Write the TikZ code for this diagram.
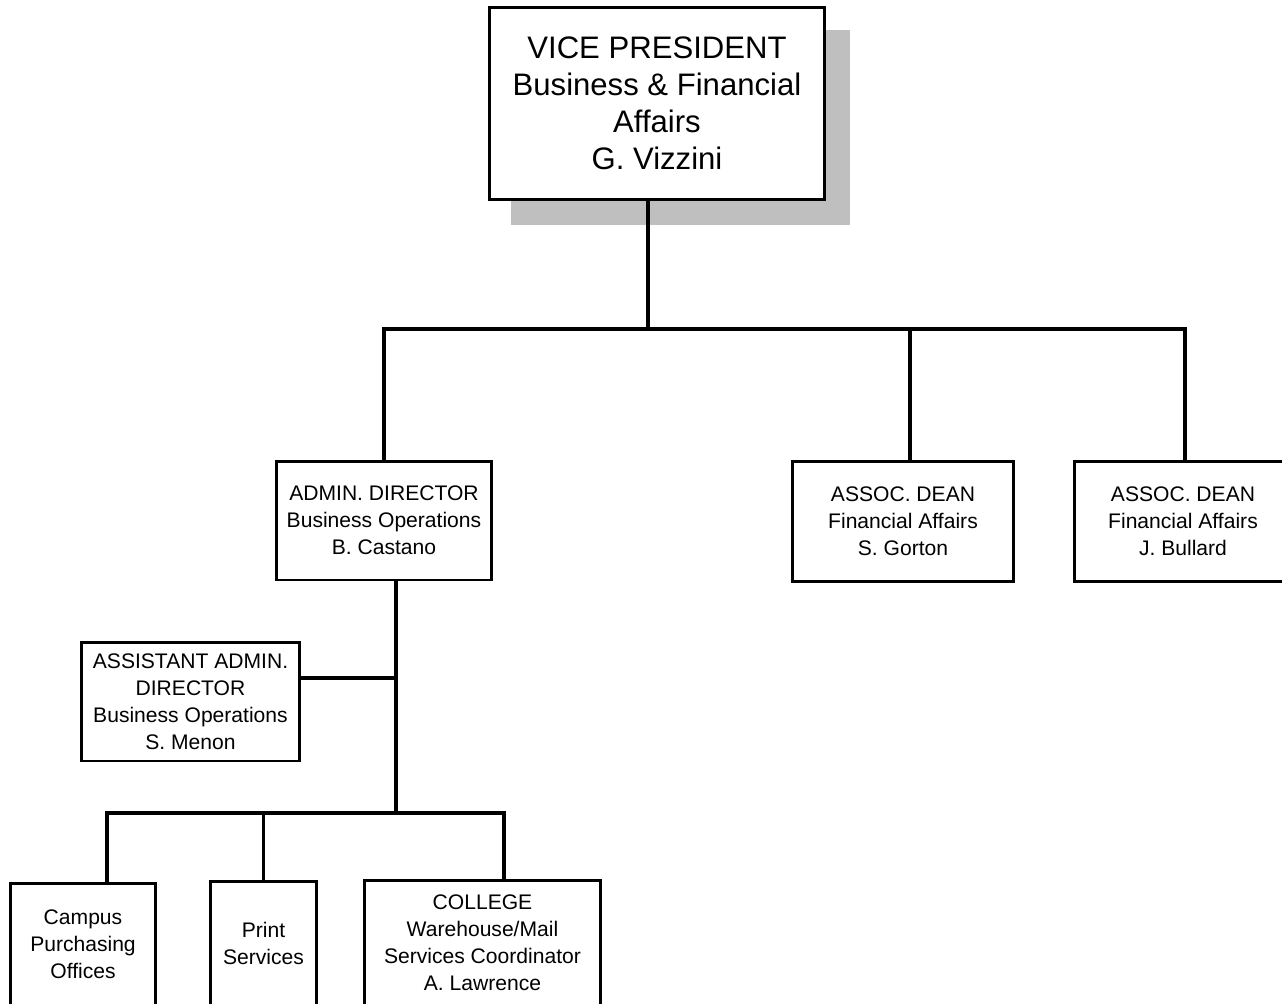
\documentclass[tikz,border=0pt]{standalone}
\usepackage{fontspec}
\setmainfont{Liberation Sans}
\usetikzlibrary{positioning}

\begin{document}
\begin{tikzpicture}[x={(0.02cm,0)}, y={(0,-0.02cm)},
        box/.style={draw, line width=1.7pt, align=center, inner sep=0pt,
            font=\fontsize{12pt}{15.3pt}\selectfont},
        bigbox/.style={box, font=\fontsize{17.7pt}{21pt}\selectfont},
        link/.style={line width=1.8pt}]
        \useasboundingbox (0,0) rectangle (1282,1004);
        \clip (0,0) rectangle (1282,1004);

        % Shadow behind the top box
        \fill[black!25] (511,30) rectangle (850,225);

        % Top box
        \node[bigbox, fill=white, minimum width=6.72cm, minimum height=3.86cm] (vp) at (657,103.5)
            {VICE PRESIDENT\\Business \& Financial\\Affairs\\G. Vizzini};

        % Second level
        \node[box, minimum width=4.32cm, minimum height=2.38cm] (admin) at (384,520.5)
            {ADMIN. DIRECTOR\\Business Operations\\B. Castano};
        \node[box, minimum width=4.44cm, minimum height=2.42cm] (deanA) at (903,521.5)
            {ASSOC. DEAN\\Financial Affairs\\S. Gorton};
        \node[box, minimum width=4.36cm, minimum height=2.42cm] (deanB) at (1183,521.5)
            {ASSOC. DEAN\\Financial Affairs\\J. Bullard};

        % Assistant
        \node[box, minimum width=4.36cm, minimum height=2.38cm] (asst) at (190.5,701.5)
            {ASSISTANT ADMIN.\\DIRECTOR\\Business Operations\\S. Menon};

        % Bottom level
        \node[box, minimum width=2.9cm, minimum height=2.44cm] (campus) at (83,944.5)
            {Campus\\Purchasing\\Offices};
        \node[box, minimum width=2.14cm, minimum height=2.48cm] (print) at (263.5,943.5)
            {Print\\Services};
        \node[box, minimum width=4.74cm, minimum height=2.5cm] (college) at (482.5,943)
            {COLLEGE\\Warehouse/Mail\\Services Coordinator\\A. Lawrence};

        % Connectors from the top box
        \coordinate (top) at (648,329);
        \coordinate (dropA) at (910,0);
        \coordinate (dropB) at (1185,0);
        \draw[link] (vp.south -| top) -- (top);
        \draw[link] (admin.north) |- (top) -| (deanA.north -| dropA);
        \draw[link] (top) -| (deanB.north -| dropB);

        % Connectors below the admin box
        \coordinate (low) at (396,813);
        \coordinate (dropC) at (107,0);
        \coordinate (dropD) at (504,0);
        \draw[link] (admin.south -| low) -- (low);
        \draw[link] (asst.east |- 0,678) -- (low |- 0,678);
        \draw[link] (campus.north -| dropC) |- (low) -| (college.north -| dropD);
        \draw[link] (print.north) -- (print.north |- low);
    \end{tikzpicture}
\end{document}
